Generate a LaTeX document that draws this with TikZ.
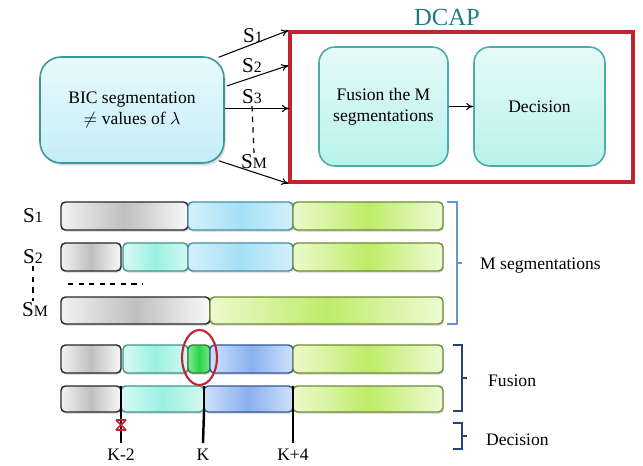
\documentclass[tikz,border=0pt]{standalone}
\usepackage{fontspec}
\setmainfont{Liberation Serif}
\usetikzlibrary{arrows.meta,calc,shadows,shapes.geometric}

\definecolor{dcapred}{RGB}{192,36,48}
\definecolor{dcapteal}{RGB}{34,122,126}
\definecolor{boxedge}{RGB}{78,170,170}
\definecolor{bracketblue}{RGB}{96,150,210}
\definecolor{bracketnavy}{RGB}{40,66,120}

\tikzset{
  procbox/.style={draw=boxedge, line width=0.9pt, rounded corners=9pt,
    top color={rgb,255:red,230;green,250;blue,247},
    bottom color={rgb,255:red,184;green,242;blue,235},
    align=center, inner sep=2pt},
  flow/.style={-{To[length=4pt,width=4pt]}, line width=0.6pt},
  seg/.style={line width=0.8pt, rounded corners=2.5pt,
    drop shadow={opacity=0.25, shadow xshift=0.5pt, shadow yshift=-1pt}},
  % middle color has to come after left/right color
  grayseg/.style={seg, draw=black!85, left color=gray!10,
    right color=gray!5, middle color=gray!50},
  aquaseg/.style={seg, draw={rgb,255:red,62;green,150;blue,140},
    left color={rgb,255:red,215;green,250;blue,245},
    right color={rgb,255:red,210;green,249;blue,242},
    middle color={rgb,255:red,155;green,240;blue,226}},
  blueseg/.style={seg, draw={rgb,255:red,70;green,140;blue,170},
    left color={rgb,255:red,212;green,240;blue,251},
    right color={rgb,255:red,212;green,240;blue,250},
    middle color={rgb,255:red,165;green,224;blue,246}},
  deepseg/.style={seg, draw={rgb,255:red,48;green,86;blue,150},
    left color={rgb,255:red,205;green,225;blue,250},
    right color={rgb,255:red,205;green,225;blue,249},
    middle color={rgb,255:red,138;green,176;blue,240}},
  greenseg/.style={seg, draw={rgb,255:red,110;green,138;blue,52},
    left color={rgb,255:red,236;green,250;blue,205},
    right color={rgb,255:red,238;green,251;blue,212},
    middle color={rgb,255:red,190;green,236;blue,105}},
  pickseg/.style={seg, draw={rgb,255:red,60;green,120;blue,60},
    left color={rgb,255:red,130;green,234;blue,140},
    right color={rgb,255:red,120;green,230;blue,130},
    middle color={rgb,255:red,45;green,212;blue,75}},
  bracket/.style={line width=0.9pt},
  slabel/.style={inner sep=1pt, font=\large},
  cut/.style={line width=1.4pt}
}

\begin{document}
\begin{tikzpicture}[x=0.02cm, y=-0.02cm]
  \useasboundingbox (0,0) rectangle (643,466);

  % upper flow chart
  \node[procbox, draw={rgb,255:red,60;green,150;blue,150},
    top color={rgb,255:red,232;green,249;blue,252},
    bottom color={rgb,255:red,196;green,238;blue,247},
    rounded corners=12pt, minimum width=3.68cm, minimum height=2.12cm,
    drop shadow={opacity=0.25, shadow xshift=1pt, shadow yshift=-1.5pt}]
    (bic) at (132,110) {BIC segmentation\\$\neq$ values of $\lambda$};

  \node[draw=dcapred, line width=1.8pt, minimum width=6.86cm,
    minimum height=3cm, inner sep=0pt] (dcap) at (461.5,107) {};
  \node[text=dcapteal, font=\fontsize{14}{16}\selectfont] (title) at (447,17) {DCAP};

  \node[procbox, minimum width=2.58cm, minimum height=2.38cm]
    (fusion) at (383.5,106.5) {Fusion the M\\segmentations};
  \node[procbox, minimum width=2.62cm, minimum height=2.38cm]
    (decision) at (539.5,106.5) {Decision};
  \draw[flow] (fusion) -- (decision);

  \coordinate (out3) at (224.5,108.5);
  \coordinate (in3) at (289,108.5);
  \draw[flow] ($(bic.north east)+(-6,1)$) -- (dcap.north west);
  \draw[flow] ($(bic.east)+(2,-24)$) -- ($(dcap.north west)+(0,35)$);
  \draw[flow] (out3) -- (in3);
  \draw[flow] ($(bic.south east)+(-6,-3)$) -- (dcap.south west);

  \node[slabel] (s1) at (253,36) {S{\small 1}};
  \node[slabel] (s2) at (252,66) {S{\small 2}};
  \node[slabel] (s3) at (252,97) {S{\small 3}};
  \node[slabel] (sm) at (254,162) {S{\small M}};
  \draw[dashed, line width=0.7pt] (s3.south) -- (sm.north);

  % the M segmentations
  \node[slabel] (r1) at (33,216) {S{\small 1}};
  \node[slabel] (r2) at (33,257) {S{\small 2}};
  \node[slabel] (rm) at (35,310) {S{\small M}};
  \draw[dashed, line width=0.6pt] (r2.south -| 33,0) -- (rm.north -| 33,0);
  \draw[dashed, line width=0.7pt] (68,284) -- (142,284);

  \foreach \a/\b/\s in {61/188/grayseg, 188/293/blueseg, 293/443/greenseg}
    \draw[\s] (\a,202) rectangle (\b,230);
  \foreach \a/\b/\s in {61/121/grayseg, 123/188/aquaseg, 188/293/blueseg, 293/443/greenseg}
    \draw[\s] (\a,243) rectangle (\b,271);
  \foreach \a/\b/\s in {61/210/grayseg, 210/443/greenseg}
    \draw[\s] (\a,297) rectangle (\b,324);

  % fusion
  \foreach \a/\b/\s in {61/121/grayseg, 123/188/aquaseg, 188/210/pickseg, 210/293/deepseg, 293/443/greenseg}
    \draw[\s] (\a,345) rectangle (\b,373);
  \foreach \a/\b/\s in {61/121/grayseg, 121/204/aquaseg, 204/293/deepseg, 293/443/greenseg}
    \draw[\s] (\a,386) rectangle (\b,412);

  \node[draw=dcapred, line width=1.2pt, ellipse, minimum width=0.7cm,
    minimum height=1.1cm] (pick) at (199.5,357.5) {};

  % decision
  \node (k2) at (121,455) {K-2};
  \node (k0) at (203,455) {K};
  \node (k4) at (293,455) {K+4};
  \foreach \x/\k in {121/k2, 204/k0, 293/k4} {
    \coordinate (top\k) at (\x,386);
    \coordinate (bot\k) at (\x,412);
    \draw[line width=0.6pt] (top\k) -- (bot\k);
    \draw[cut] (bot\k) -- (\k.north);
  }
  \draw[dcapred, line width=1pt] (116,420) -- (126,430) (116,430) -- (126,420)
    (116,420) -- (126,420) (116,430) -- (126,430);

  % brackets
  \draw[bracket, bracketblue] (447,202) -- (457,202) -- (457,324) -- (447,324);
  \draw[bracket, bracketblue] (457,263) -- (462,263);
  \node[anchor=west] (msegs) at (474,266) {M segmentations};

  \draw[bracket, bracketnavy] (453,345) -- (462,345) -- (462,411) -- (453,411);
  \draw[bracket, bracketnavy] (462,378) -- (467,378);
  \node[anchor=west] (fus) at (482,381) {Fusion};

  \draw[bracket, bracketnavy] (453,423) -- (462,423) -- (462,449) -- (453,449);
  \draw[bracket, bracketnavy] (462,436) -- (467,436);
  \node[anchor=west] (dec) at (480,440) {Decision};
\end{tikzpicture}
\end{document}
